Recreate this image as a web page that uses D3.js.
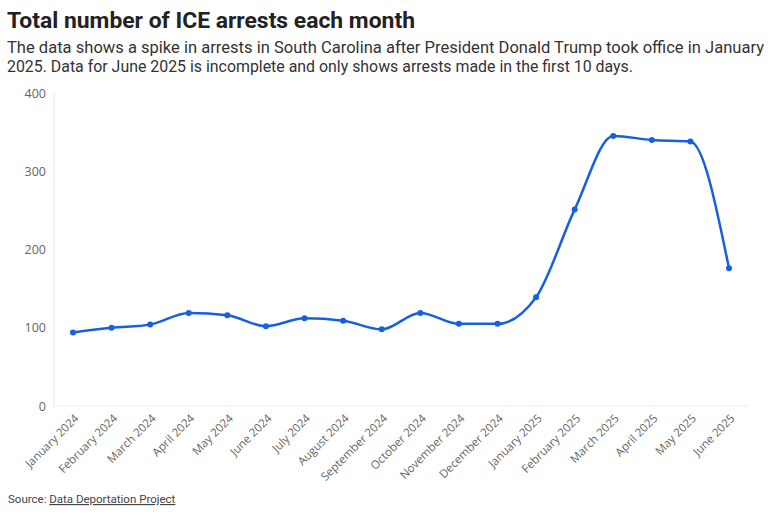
<!DOCTYPE html>
<html>
<head>
<meta charset="utf-8">
<script src="https://cdn.jsdelivr.net/npm/d3@7"></script>
<style>
  html, body { margin: 0; padding: 0; background: #fff; }
  svg { display: block; }
</style>
</head>
<body>
<svg id="chart" width="768" height="515"></svg>
<script>
const months = ["January 2024","February 2024","March 2024","April 2024","May 2024","June 2024","July 2024","August 2024","September 2024","October 2024","November 2024","December 2024","January 2025","February 2025","March 2025","April 2025","May 2025","June 2025"];
const arrests = [94, 100, 104, 119, 116, 102, 112, 109, 98, 119, 105, 105, 139, 251, 345, 340, 338, 176];
const yTicks = [0, 100, 200, 300, 400];

const titleText = "Total number of ICE arrests each month";
const subtitleLines = [
  "The data shows a spike in arrests in South Carolina after President Donald Trump took office in January",
  "2025. Data for June 2025 is incomplete and only shows arrests made in the first 10 days."
];

const svg = d3.select("#chart");

svg.append("text").attr("x", 7).attr("y", 28)
  .attr("font-family", "Roboto, 'Noto Sans', sans-serif").attr("font-weight", 700)
  .attr("font-size", 22).attr("fill", "#222")
  .attr("textLength", 408).attr("lengthAdjust", "spacingAndGlyphs")
  .text(titleText);

const subLens = [757, 626];
subtitleLines.forEach((t, i) => {
  svg.append("text").attr("x", 7).attr("y", 53 + i * 19)
    .attr("font-family", "Roboto, 'Noto Sans', sans-serif")
    .attr("font-size", 16).attr("fill", "#333")
    .attr("textLength", subLens[i]).attr("lengthAdjust", "spacingAndGlyphs")
    .text(t);
});

const x = d3.scalePoint().domain(months).range([73, 729]);
const y = d3.scaleLinear().domain([0, 400]).range([406, 93]);

svg.append("line").attr("x1", 54).attr("x2", 54).attr("y1", y(400)).attr("y2", y(0))
  .attr("stroke", "#e6e6e6").attr("stroke-width", 1);
svg.append("line").attr("x1", 54).attr("x2", 748).attr("y1", y(0)).attr("y2", y(0))
  .attr("stroke", "#ececec").attr("stroke-width", 1);

const yAxis = svg.append("g").attr("transform", "translate(54,0)")
  .call(d3.axisLeft(y).tickValues(yTicks).tickSize(0).tickPadding(8));
yAxis.select(".domain").remove();
yAxis.selectAll("text").attr("font-family", "'Open Sans', sans-serif")
  .attr("font-size", 12.5).attr("fill", "#666");

const xAxis = svg.append("g").attr("transform", `translate(0,${y(0)})`)
  .call(d3.axisBottom(x).tickSize(0).tickPadding(0));
xAxis.select(".domain").remove();
xAxis.selectAll("text")
  .attr("font-family", "'Open Sans', sans-serif").attr("font-size", 11.5).attr("fill", "#666")
  .attr("text-anchor", "end")
  .attr("dy", 0)
  .attr("transform", "translate(6,13) rotate(-45)");

const data = months.map((m, i) => ({m, v: arrests[i]}));
const line = d3.line().x(d => x(d.m)).y(d => y(d.v)).curve(d3.curveMonotoneX);
svg.append("path").datum(data).attr("d", line)
  .attr("fill", "none").attr("stroke", "#1560e0").attr("stroke-width", 2.5);
svg.selectAll("circle.pt").data(data).join("circle").attr("class", "pt")
  .attr("cx", d => x(d.m)).attr("cy", d => y(d.v)).attr("r", 3)
  .attr("fill", "#1560e0");

const src = svg.append("text").attr("x", 8).attr("y", 503)
  .attr("font-family", "Roboto, 'Noto Sans', sans-serif").attr("font-size", 11.5).attr("fill", "#444");
src.append("tspan").text("Source: ");
src.append("tspan").attr("text-decoration", "underline").text("Data Deportation Project");
</script>
</body>
</html>
